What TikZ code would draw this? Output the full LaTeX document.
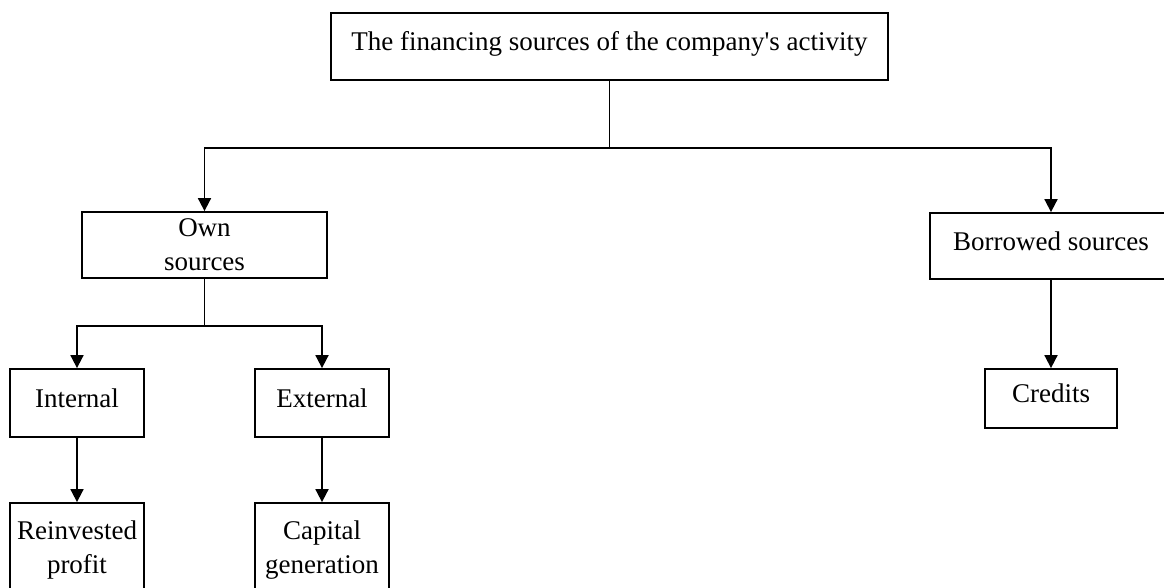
\documentclass[tikz,border=0pt]{standalone}
\usepackage{fontspec}
\setmainfont{Liberation Serif}
\usepackage{tikz}
\usetikzlibrary{arrows.meta}

\begin{document}
\begin{tikzpicture}[%
		x=1pt,y=-1pt,
		box/.style={draw,line width=1.8pt,inner sep=0pt,align=center,
			font=\fontsize{27}{34}\selectfont},
		oneline/.style={text height=18pt,text depth=10pt},
		arr/.style={line width=1.8pt,-{Triangle[width=13pt,length=13pt]}}]
		\useasboundingbox (0,0) rectangle (1164,588);
		\clip (0,0) rectangle (1164,588);
		\node[box,oneline,minimum width=557pt,minimum height=67pt] (sources) at (609.5,46.5) {The financing sources of the company\textquotesingle s activity};
		\node[box,minimum width=245pt,minimum height=66pt] (own) at (204.5,245) {Own\\sources};
		\node[box,oneline,minimum width=242pt,minimum height=66pt] (borrowed) at (1051,246) {Borrowed sources};
		\node[box,oneline,minimum width=134pt,minimum height=68pt] (internal) at (77,403) {Internal};
		\node[box,oneline,minimum width=134pt,minimum height=68pt] (external) at (322,403) {External};
		\node[box,minimum width=134pt,minimum height=94pt] (reinvested) at (77,550) {Reinvested\\profit};
		\node[box,minimum width=134pt,minimum height=94pt] (capital) at (322,550) {Capital\\generation};
		\node[box,oneline,minimum width=132pt,minimum height=59pt] (credits) at (1051,398.5) {Credits};
		% connectors
		\draw[arr] (sources.south) -- ++(0,67) -| (own.north);
		\draw[arr] (sources.south) -- ++(0,67) -| (borrowed.north);
		\draw[arr] (own.south) -- ++(0,47) -| (internal.north);
		\draw[arr] (own.south) -- ++(0,47) -| (external.north);
		\draw[arr] (internal) -- (reinvested);
		\draw[arr] (external) -- (capital);
		\draw[arr] (borrowed) -- (credits);
\end{tikzpicture}
\end{document}
